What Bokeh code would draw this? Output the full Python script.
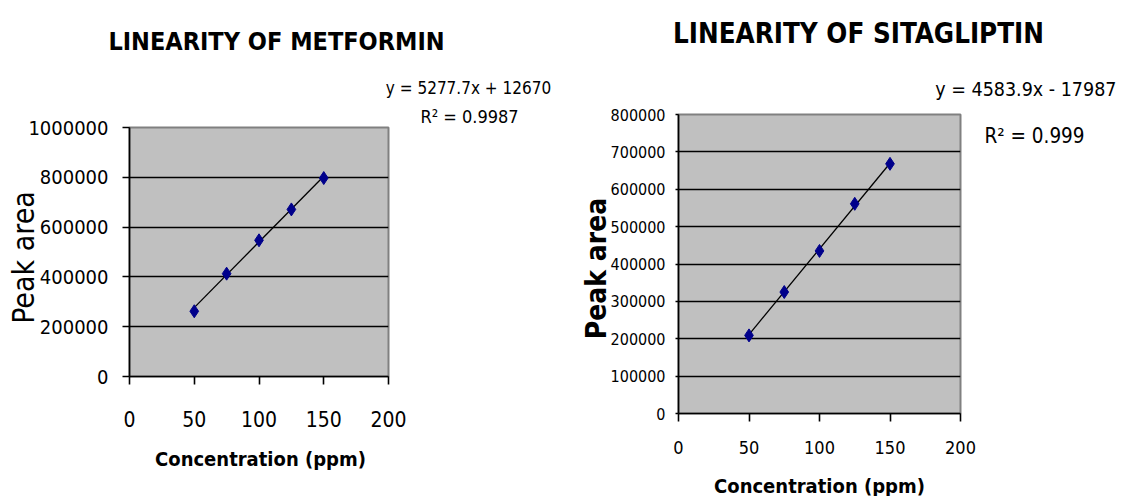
from bokeh.plotting import figure
from bokeh.layouts import row
from bokeh.models import Range1d, FixedTicker, Label, BasicTickFormatter
from bokeh.embed import file_html
from bokeh.resources import INLINE

# ---------------- data ----------------
conc = [50, 75, 100, 125, 150]
metformin_area = [262000, 413000, 547000, 671000, 797000]
sitagliptin_area = [209000, 325000, 435000, 561000, 668000]
met_slope, met_intercept = 5277.7, 12670
sit_slope, sit_intercept = 4583.9, -17987
x_ticks = [0, 50, 100, 150, 200]
met_y_ticks = [0, 200000, 400000, 600000, 800000, 1000000]
sit_y_ticks = [0, 100000, 200000, 300000, 400000, 500000, 600000, 700000, 800000]
met_title = "LINEARITY OF METFORMIN"
sit_title = "LINEARITY OF SITAGLIPTIN"
met_eq = "y = 5277.7x + 12670"
met_r2 = "R² = 0.9987"
sit_eq = "y = 4583.9x - 17987"
sit_r2 = "R² = 0.999"
x_title = "Concentration (ppm)"
y_title = "Peak area"

NARROW = "DejaVu Sans Condensed"
H = 496


def make(width, ml, mr, mt, mb, ymax, yticks, tick_out_y, tick_out_x,
         ytick_size, xtick_size, ystand, xstand):
    p = figure(width=width, height=H, output_backend="svg", toolbar_location=None,
               x_range=Range1d(0, 200), y_range=Range1d(0, ymax),
               min_border_left=ml, min_border_right=mr,
               min_border_top=mt, min_border_bottom=mb, frame_align=False)
    p.background_fill_color = "#C0C0C0"
    p.border_fill_color = "white"
    p.outline_line_color = "#808080"
    p.outline_line_width = 2
    p.xgrid.visible = False
    p.ygrid.ticker = FixedTicker(ticks=yticks)
    p.ygrid.grid_line_color = "black"
    p.ygrid.grid_line_width = 1.6
    p.xaxis.ticker = FixedTicker(ticks=x_ticks)
    p.yaxis.ticker = FixedTicker(ticks=yticks)
    p.yaxis.formatter = BasicTickFormatter(use_scientific=False)
    for ax in (p.xaxis, p.yaxis):
        ax.axis_line_color = "black"
        ax.axis_line_width = 1.6
        ax.major_tick_line_color = "black"
        ax.major_tick_line_width = 1.6
        ax.major_tick_in = 0
        ax.minor_tick_line_color = None
        ax.major_label_text_font = NARROW
        ax.major_label_text_color = "black"
    p.yaxis.major_tick_out = tick_out_y
    p.xaxis.major_tick_out = tick_out_x
    p.yaxis.major_label_text_font_size = f"{ytick_size}px"
    p.xaxis.major_label_text_font_size = f"{xtick_size}px"
    p.yaxis.major_label_standoff = ystand
    p.xaxis.major_label_standoff = xstand
    return p


def add_label(p, place, text, x, y, size, bold=False, angle=0, align="center"):
    p.add_layout(Label(x=x, y=y, x_units="canvas", y_units="canvas", text=text,
                       text_font=NARROW, text_font_size=f"{size}px",
                       text_font_style="bold" if bold else "normal",
                       text_align=align, text_baseline="middle",
                       angle=angle, text_color="black"), place)


xs = [min(conc), max(conc)]

# ---------------- left chart ----------------
p1 = make(568, 129, 180, 127, 120, 1000000, met_y_ticks, 7, 8, 20, 21, 14, 26)
p1.line(xs, [met_slope * v + met_intercept for v in xs], line_color="black", line_width=1.3)
p1.scatter(conc, metformin_area, marker="diamond", size=13,
           fill_color="#00008B", line_color="#00008B")
add_label(p1, "above", met_title, 276, 41, 25, bold=True)
add_label(p1, "above", met_eq, 468, 87, 17)
add_label(p1, "above", met_r2, 469, 116, 18)
add_label(p1, "right", y_title, 23, 257, 30, angle=1.5708)
add_label(p1, "below", x_title, 260, 458, 20, bold=True)

# ---------------- right chart ----------------
p2 = make(549, 110, 157, 114, 83, 800000, sit_y_ticks, 3, 8, 16, 18, 10, 19)
p2.line(xs, [sit_slope * v + sit_intercept for v in xs], line_color="black", line_width=1.3)
p2.scatter(conc, sitagliptin_area, marker="diamond", size=13,
           fill_color="#00008B", line_color="#00008B")
add_label(p2, "above", sit_title, 290, 32, 27.5, bold=True)
add_label(p2, "above", sit_eq, 548, 89, 19.5, align="right")
add_label(p2, "above", sit_r2, 466, 135, 20.5)
add_label(p2, "right", y_title, 28, 268, 28, bold=True, angle=1.5708)
add_label(p2, "below", x_title, 251, 485, 20, bold=True)

layout = row(p1, p2)
open("out.html", "w").write(file_html(layout, INLINE))
